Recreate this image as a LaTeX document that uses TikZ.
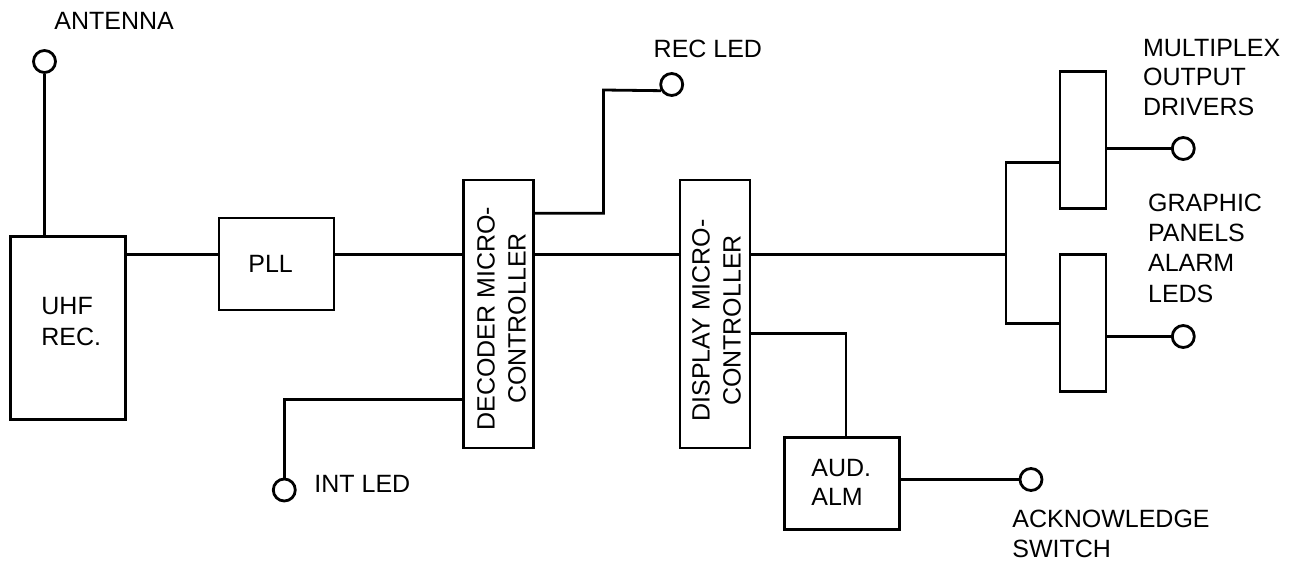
\documentclass[tikz,border=0pt]{standalone}
\usepackage{fontspec}
\setmainfont{Liberation Sans}
\begin{document}
\begin{tikzpicture}[x=1pt,y=-1pt,
  line width=2.8pt,
  box/.style={draw, rectangle, inner sep=0pt},
  term/.style={draw, circle, minimum size=22pt, inner sep=0pt},
  lbl/.style={inner sep=0pt, font=\fontsize{25}{30.5}\selectfont, align=left},
  vlbl/.style={inner sep=0pt, font=\fontsize{25}{31}\selectfont, align=center, rotate=90},
  wire/.style={draw}]
\useasboundingbox (0,0) rectangle (1301,564);

% blocks
\node[box, minimum width=115pt, minimum height=183pt] (uhf) at (68,328) {};
\node[box, minimum width=115pt, minimum height=92pt] (pll) at (276.5,264) {};
\node[box, minimum width=70pt, minimum height=268pt] (dec) at (498.5,314) {};
\node[box, minimum width=70pt, minimum height=268pt] (disp) at (715,314) {};
\node[box, minimum width=115pt, minimum height=92pt] (aud) at (842.3,483.3) {};
\node[box, minimum width=46pt, minimum height=137pt] (mbox) at (1083,139.7) {};
\node[box, minimum width=46pt, minimum height=137pt] (gbox) at (1083,323) {};

% terminals
\node[term] (ant) at (44.5,61.5) {};
\node[term] (intled) at (284.3,490) {};
\node[term] (recled) at (671.7,84.5) {};
\node[term] (ack) at (1031,479.5) {};
\node[term] (mux) at (1183.3,148.5) {};
\node[term] (gp) at (1183.3,336.5) {};

% labels
\node[lbl, anchor=base west] (antl) at (53,29.3) {ANTENNA};
\node[lbl, anchor=base west] (recl) at (652.3,57.3) {REC LED};
\node[lbl, anchor=base west] (intl) at (313,492) {INT LED};
\node[lbl, anchor=base west] (plll) at (247,272) {PLL};
\node[lbl, anchor=north west, font=\fontsize{25}{31}\selectfont] (uhfl) at (40,296) {UHF\\REC.};
\node[lbl, anchor=north west, font=\fontsize{25}{29}\selectfont] (audl) at (810,458.3) {AUD.\\ALM};
\node[lbl, anchor=north west, font=\fontsize{25}{30.7}\selectfont] (ackl) at (1011,508.3) {ACKNOWLEDGE\\SWITCH};
\node[lbl, anchor=north west, font=\fontsize{25}{29.7}\selectfont] (muxl) at (1141.7,37.7) {MULTIPLEX\\OUTPUT\\DRIVERS};
\node[lbl, anchor=north west, font=\fontsize{25}{30.2}\selectfont] (gpl) at (1146.7,192.7) {GRAPHIC\\PANELS\\ALARM\\LEDS};
\node[vlbl] (decl) at (501.5,318.5) {DECODER MICRO-\\CONTROLLER};
\node[vlbl] (displ) at (716.5,320.5) {DISPLAY MICRO-\\CONTROLLER};

% helper coordinates
\coordinate (bus) at (0,254.5);
\coordinate (jn) at (1006,254.5);
\coordinate (j1) at (1006,162.3);
\coordinate (j2) at (1006,323.3);
\coordinate (recA) at (603.5,213.3);
\coordinate (recB) at (603.5,90);
\coordinate (intA) at (284.3,399.3);
\coordinate (audA) at (846,333.3);

% connectors
\draw (ant) -- (ant |- uhf.north);
\draw (uhf.east |- bus) -- (pll.west |- bus);
\draw (pll.east |- bus) -- (dec.west |- bus);
\draw (dec.east |- bus) -- (disp.west |- bus);
\draw (disp.east |- bus) -- (jn);
\draw (mbox.west |- j1) -- (j1) -- (j2) -- (gbox.west |- j2);
\draw (mbox.east |- mux) -- (mux);
\draw (gbox.east |- gp) -- (gp);
\draw (dec.east |- recA) -- (recA) -- (recB) -- (recled.210);
\draw (dec.west |- intA) -- (intA) -- (intled.north);
\draw (disp.east |- audA) -- (audA) -- (audA |- aud.north);
\draw (aud.east |- ack) -- (ack);
\end{tikzpicture}
\end{document}
